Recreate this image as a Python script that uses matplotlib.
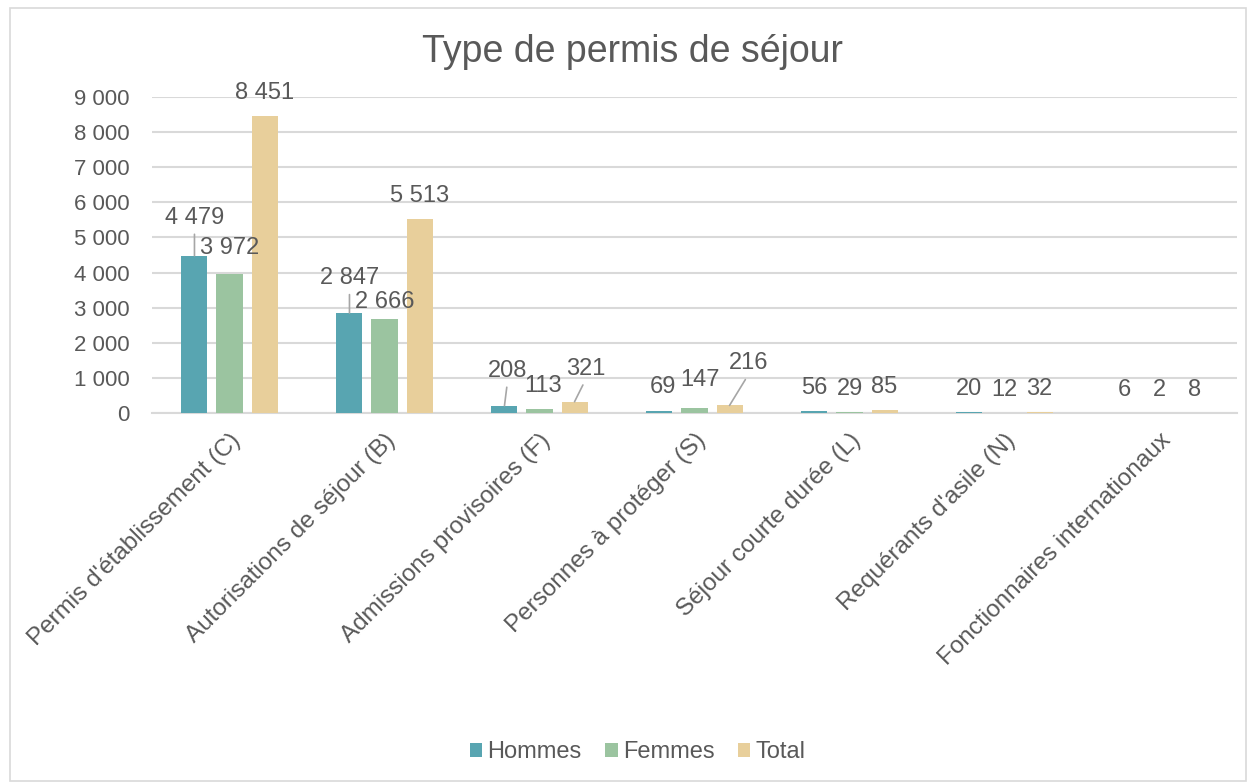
import matplotlib
matplotlib.use("Agg")
import matplotlib.pyplot as plt
import numpy as np
from matplotlib.patches import Rectangle

categories = ["Permis d'établissement (C)", "Autorisations de séjour (B)",
              "Admissions provisoires (F)", "Personnes à protéger (S)",
              "Séjour courte durée (L)", "Requérants d'asile (N)",
              "Fonctionnaires internationaux"]
hommes = [4479, 2847, 208, 69, 56, 20, 6]
femmes = [3972, 2666, 113, 147, 29, 12, 2]
total = [8451, 5513, 321, 216, 85, 32, 8]
series_names = ["Hommes", "Femmes", "Total"]
yticks = [0, 1000, 2000, 3000, 4000, 5000, 6000, 7000, 8000, 9000]

colors = ["#58A5B1", "#9BC4A0", "#E8CF9B"]
txt = "#595959"
grid = "#D9D9D9"

# label offsets in pixels (dx, dy, leader line)
default_off = (0, 23, False)
special = {
    (0, 0): (0, 38, True),
    (0, 1): (0, 26, False),
    (1, 0): (0, 35, True),
    (1, 1): (0, 17, False),
    (2, 0): (3, 35, True),
    (2, 1): (4, 23, False),
    (2, 2): (11, 33, True),
    (3, 0): (3, 24, False),
    (3, 1): (6, 28, False),
    (3, 2): (19, 42, True),
}

plt.rcParams['font.family'] = ['Liberation Sans', 'DejaVu Sans']
fig = plt.figure(figsize=(12.48, 7.83), dpi=100)
ax = fig.add_axes([152/1248, 1-413/783, (1237-152)/1248, (413-97)/783])

x = np.arange(len(categories))
w = 0.168
step = 0.226
data = [hommes, femmes, total]
for i, (vals, c, name) in enumerate(zip(data, colors, series_names)):
    xs = x + (i - 1) * step
    ax.bar(xs, vals, width=w, color=c, label=name, zorder=3)
    for j, v in enumerate(vals):
        dx, dy, lead = special.get((j, i), default_off)
        lbl = f"{v:,}".replace(",", " ")
        kw = dict(xy=(xs[j], v), xytext=(dx, dy), textcoords='offset pixels',
                  ha='center', va='center', fontsize=17, color=txt, zorder=10,
                  annotation_clip=False)
        if lead:
            kw['arrowprops'] = dict(arrowstyle='-', color='#A6A6A6', lw=1.2,
                                    shrinkA=2, shrinkB=0, relpos=(0.5, 0))
        ax.annotate(lbl, **kw)

ax.set_xlim(-0.5, len(categories) - 0.5)
ax.set_ylim(0, 9000)
ax.set_yticks(yticks)
ax.set_yticklabels([f"{t:,}".replace(",", " ") for t in yticks], fontsize=16, color=txt)
ax.set_xticks(x)
ax.set_xticklabels(categories, rotation=45, ha='right', rotation_mode='anchor',
                   fontsize=17.5, color=txt)
ax.tick_params(axis='both', length=0)
ax.tick_params(axis='y', pad=16)
ax.tick_params(axis='x', pad=12)
ax.grid(axis='y', color=grid, lw=1.5, zorder=0)
for s in ['top', 'right', 'left']:
    ax.spines[s].set_visible(False)
ax.spines['bottom'].set_color(grid)
ax.spines['bottom'].set_linewidth(1.5)

fig.text(0.507, 1-52/783, "Type de permis de séjour", ha='center', va='center',
         fontsize=27, color=txt)

leg = fig.legend(loc='center', bbox_to_anchor=(0.511, 1-752/783), ncol=3, frameon=False,
                 fontsize=17, handlelength=0.52, handleheight=0.52, handletextpad=0.22,
                 columnspacing=1.0)
for t in leg.get_texts():
    t.set_color(txt)

fig.patches.append(Rectangle((10/1248, 2/783), 1-12/1248, 1-10/783,
                             transform=fig.transFigure, fill=False,
                             edgecolor=grid, lw=1.2))

fig.savefig("out.png", dpi=100)
